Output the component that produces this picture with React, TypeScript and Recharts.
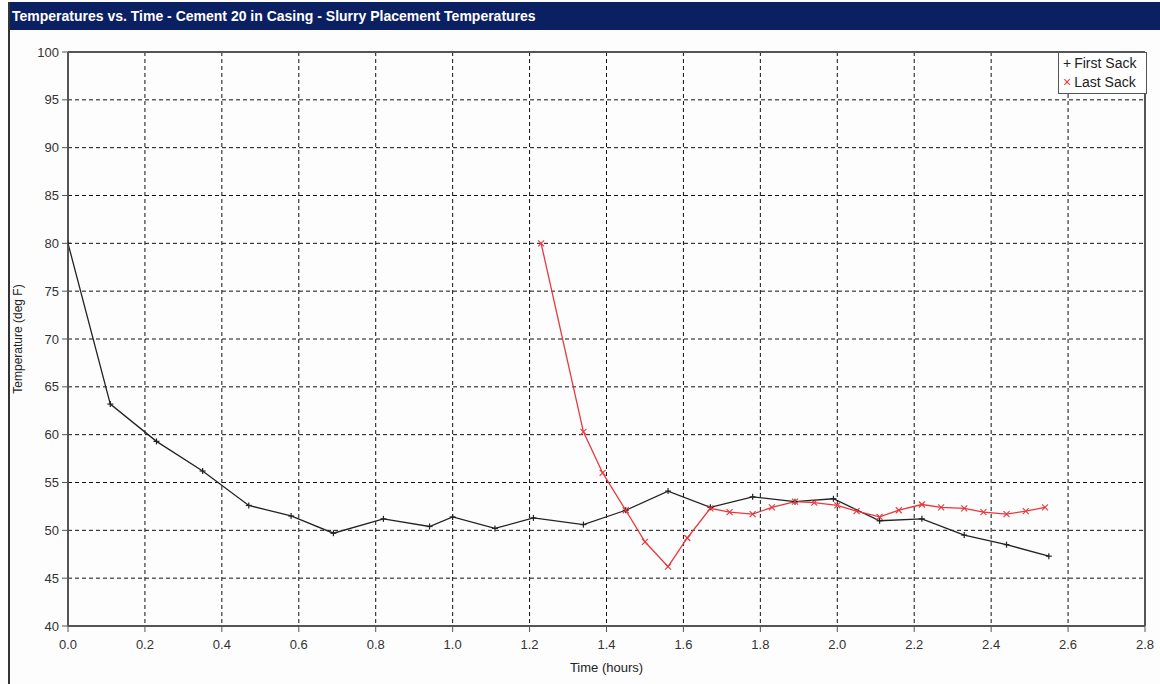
import React from 'react';
import {
  LineChart, Line, XAxis, YAxis, CartesianGrid, Legend, ReferenceLine, Label
} from 'recharts';

const firstTime = [0, 0.11, 0.23, 0.35, 0.47, 0.58, 0.69, 0.82, 0.94, 1.0, 1.11, 1.21, 1.34, 1.45, 1.56, 1.67, 1.78, 1.89, 1.99, 2.11, 2.22, 2.33, 2.44, 2.55];
const firstTemp = [80.0, 63.2, 59.3, 56.2, 52.6, 51.5, 49.7, 51.2, 50.4, 51.4, 50.2, 51.3, 50.6, 52.1, 54.1, 52.4, 53.5, 53.0, 53.3, 51.0, 51.2, 49.5, 48.5, 47.3];

const lastTime = [1.23, 1.34, 1.39, 1.45, 1.5, 1.56, 1.61, 1.67, 1.72, 1.78, 1.83, 1.89, 1.94, 2.0, 2.05, 2.11, 2.16, 2.22, 2.27, 2.33, 2.38, 2.44, 2.49, 2.54];
const lastTemp = [80.0, 60.3, 56.0, 52.1, 48.8, 46.2, 49.2, 52.3, 51.9, 51.7, 52.4, 53.0, 52.9, 52.6, 52.0, 51.4, 52.1, 52.7, 52.4, 52.3, 51.9, 51.7, 52.0, 52.4];

const xTicks = [0, 0.2, 0.4, 0.6, 0.8, 1.0, 1.2, 1.4, 1.6, 1.8, 2.0, 2.2, 2.4, 2.6, 2.8];
const yTicks = [40, 45, 50, 55, 60, 65, 70, 75, 80, 85, 90, 95, 100];

const TITLE = 'Temperatures vs. Time - Cement 20 in Casing - Slurry Placement Temperatures';
const BLACK = '#222222';
const RED = '#e8383d';
const FONT = '"Liberation Sans", Arial, sans-serif';

const firstData = firstTime.map((t, i) => ({ t, first: firstTemp[i] }));
const lastData = lastTime.map((t, i) => ({ t, last: lastTemp[i] }));

const PlusDot = (props: any) => {
  const { cx, cy } = props;
  if (cx == null || cy == null) return null;
  return (
    <g stroke={BLACK} strokeWidth={1.2}>
      <line x1={cx - 3} y1={cy} x2={cx + 3} y2={cy} />
      <line x1={cx} y1={cy - 3} x2={cx} y2={cy + 3} />
    </g>
  );
};

const CrossDot = (props: any) => {
  const { cx, cy } = props;
  if (cx == null || cy == null) return null;
  return (
    <g stroke={RED} strokeWidth={1.1}>
      <line x1={cx - 3} y1={cy - 3} x2={cx + 3} y2={cy + 3} />
      <line x1={cx - 3} y1={cy + 3} x2={cx + 3} y2={cy - 3} />
    </g>
  );
};

const LegendBox = () => (
  <div style={{
    border: '1px solid #555', background: '#fff', padding: '1px 4px 1px 4px',
    fontFamily: FONT, fontSize: 14, color: '#222', lineHeight: '19px', width: 79
  }}>
    <div><span style={{ color: BLACK, marginRight: 3 }}>+</span>First Sack</div>
    <div><span style={{ color: RED, marginRight: 3 }}>×</span>Last Sack</div>
  </div>
);

export default function App() {
  return (
    <div style={{ position: 'relative', width: 1160, height: 684, background: '#fdfdfd', overflow: 'hidden' }}>
      <style>{'body{margin:0}'}</style>
      <div style={{
        position: 'absolute', left: 9, top: 2, width: 1151, height: 28, background: '#0b1f63',
        color: '#fff', fontFamily: FONT, fontWeight: 'bold', fontSize: 14, lineHeight: '28px',
        paddingLeft: 3, boxSizing: 'border-box', whiteSpace: 'nowrap'
      }}>{TITLE}</div>
      <div style={{ position: 'absolute', left: 8, top: 2, width: 2, height: 682, background: '#333' }} />
      <div style={{ position: 'absolute', left: 0, top: 0 }}>
        <LineChart width={1160} height={684} margin={{ top: 52, right: 15, bottom: 28, left: 10 }}
          style={{ fontFamily: FONT }}>
          <CartesianGrid stroke="#111" strokeDasharray="4 3" strokeWidth={1} />
          <XAxis type="number" dataKey="t" domain={[0, 2.8]} ticks={xTicks} height={30}
            tickFormatter={(v: number) => v.toFixed(1)} allowDataOverflow
            axisLine={{ stroke: '#555', strokeWidth: 2 }} tickLine={{ stroke: '#555' }} tickSize={6}
            tickMargin={8} tick={{ fill: '#333', fontSize: 13 }}>
            <Label value="Time (hours)" position="bottom" offset={7} fill="#222" fontSize={13} />
          </XAxis>
          <YAxis type="number" domain={[40, 100]} ticks={yTicks} width={58} allowDataOverflow
            axisLine={{ stroke: '#555', strokeWidth: 2 }} tickLine={{ stroke: '#555' }} tickSize={6}
            tickMargin={3} tick={{ fill: '#333', fontSize: 13 }}>
            <Label value="Temperature (deg F)" angle={-90} position="insideLeft" offset={8}
              fill="#222" fontSize={12} style={{ textAnchor: 'middle' }} />
          </YAxis>
          <ReferenceLine y={100} stroke="#555" strokeWidth={2} />
          <ReferenceLine x={2.8} stroke="#555" strokeWidth={2} />
          <Legend layout="vertical" verticalAlign="middle" align="center" content={<LegendBox />}
            wrapperStyle={{ position: 'absolute', left: 1058, top: 52, width: 'auto', height: 'auto' }} />
          <Line data={firstData} dataKey="first" name="First Sack" stroke={BLACK} strokeWidth={1.3}
            dot={<PlusDot />} activeDot={false} isAnimationActive={false} />
          <Line data={lastData} dataKey="last" name="Last Sack" stroke={RED} strokeWidth={1.3}
            dot={<CrossDot />} activeDot={false} isAnimationActive={false} />
        </LineChart>
      </div>
    </div>
  );
}
